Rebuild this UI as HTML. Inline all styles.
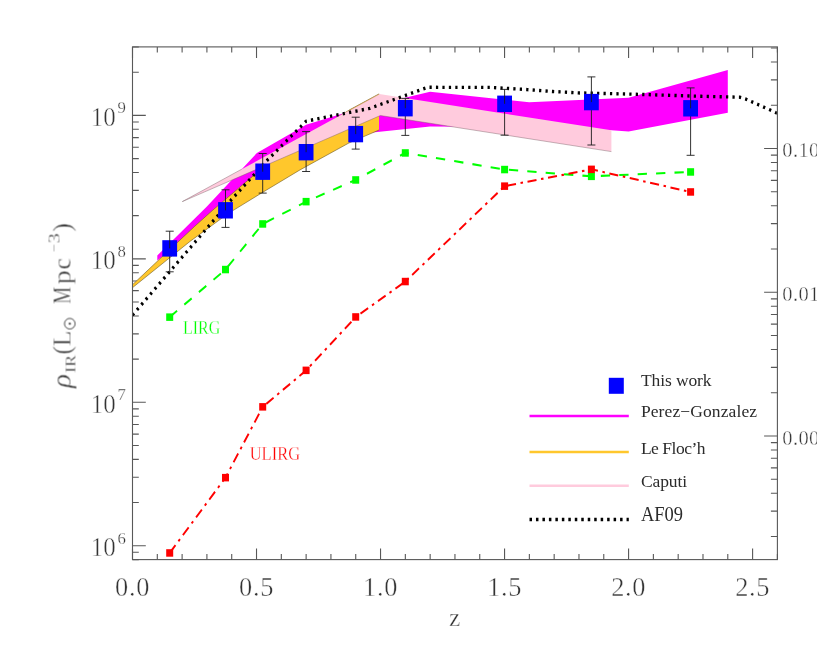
<!DOCTYPE html>
<html><head><meta charset="utf-8"><title>rho_IR vs z</title>
<style>
html,body{margin:0;padding:0;background:#fff;}
body{width:817px;height:654px;overflow:hidden;font-family:"Liberation Serif",serif;}
svg{display:block;}
text{font-family:"Liberation Serif",serif;stroke:#fff;stroke-width:0.42px;}
text.n{stroke:none;}
</style></head><body>
<svg width="817" height="654" viewBox="0 0 817 654">
<rect x="0" y="0" width="817" height="654" fill="#ffffff"/>

<defs><clipPath id="pc"><rect x="133.05" y="47.449999999999996" width="643.8" height="511.6"/></clipPath></defs>
<rect x="132.5" y="46.9" width="644.9" height="512.7" fill="none" stroke="#585858" stroke-width="1.1"/>
<path d="M132.50 559.6v-11M132.50 46.9v11M157.30 559.6v-5.5M157.30 46.9v5.5M182.11 559.6v-5.5M182.11 46.9v5.5M206.91 559.6v-5.5M206.91 46.9v5.5M231.72 559.6v-5.5M231.72 46.9v5.5M256.52 559.6v-11M256.52 46.9v11M281.32 559.6v-5.5M281.32 46.9v5.5M306.13 559.6v-5.5M306.13 46.9v5.5M330.93 559.6v-5.5M330.93 46.9v5.5M355.73 559.6v-5.5M355.73 46.9v5.5M380.54 559.6v-11M380.54 46.9v11M405.34 559.6v-5.5M405.34 46.9v5.5M430.15 559.6v-5.5M430.15 46.9v5.5M454.95 559.6v-5.5M454.95 46.9v5.5M479.75 559.6v-5.5M479.75 46.9v5.5M504.56 559.6v-11M504.56 46.9v11M529.36 559.6v-5.5M529.36 46.9v5.5M554.17 559.6v-5.5M554.17 46.9v5.5M578.97 559.6v-5.5M578.97 46.9v5.5M603.77 559.6v-5.5M603.77 46.9v5.5M628.58 559.6v-11M628.58 46.9v11M653.38 559.6v-5.5M653.38 46.9v5.5M678.18 559.6v-5.5M678.18 46.9v5.5M702.99 559.6v-5.5M702.99 46.9v5.5M727.79 559.6v-5.5M727.79 46.9v5.5M752.60 559.6v-11M752.60 46.9v11M777.40 559.6v-5.5M777.40 46.9v5.5M132.5 559.65h6.3M132.5 552.31h6.3M132.5 545.75h13.3M132.5 502.57h6.3M132.5 477.31h6.3M132.5 459.38h6.3M132.5 445.48h6.3M132.5 434.12h6.3M132.5 424.52h6.3M132.5 416.20h6.3M132.5 408.86h6.3M132.5 402.30h13.3M132.5 359.12h6.3M132.5 333.86h6.3M132.5 315.93h6.3M132.5 302.03h6.3M132.5 290.67h6.3M132.5 281.07h6.3M132.5 272.75h6.3M132.5 265.41h6.3M132.5 258.85h13.3M132.5 215.67h6.3M132.5 190.41h6.3M132.5 172.48h6.3M132.5 158.58h6.3M132.5 147.22h6.3M132.5 137.62h6.3M132.5 129.30h6.3M132.5 121.96h6.3M132.5 115.40h13.3M132.5 72.22h6.3M132.5 46.96h6.3M777.4 148.50h-13.3M777.4 105.23h-6.5M777.4 79.91h-6.5M777.4 61.95h-6.5M777.4 48.02h-6.5M777.4 292.25h-13.3M777.4 248.98h-6.5M777.4 223.66h-6.5M777.4 205.70h-6.5M777.4 191.77h-6.5M777.4 180.39h-6.5M777.4 170.77h-6.5M777.4 162.43h-6.5M777.4 155.08h-6.5M777.4 436.00h-13.3M777.4 392.73h-6.5M777.4 367.41h-6.5M777.4 349.45h-6.5M777.4 335.52h-6.5M777.4 324.14h-6.5M777.4 314.52h-6.5M777.4 306.18h-6.5M777.4 298.83h-6.5M777.4 536.48h-6.5M777.4 511.16h-6.5M777.4 493.20h-6.5M777.4 479.27h-6.5M777.4 467.89h-6.5M777.4 458.27h-6.5M777.4 449.93h-6.5M777.4 442.58h-6.5" stroke="#585858" stroke-width="1.1" fill="none"/>
<g clip-path="url(#pc)">
<polygon points="157.3,255.4 206.9,206.5 256.9,153.0 306.1,124.8 355.7,109.6 430.1,91.8 529.2,102.2 628.6,97.7 727.8,70.0 727.8,112.8 628.6,131.5 611.4,130.3 529.4,127.0 430.1,126.5 355.7,134.3 306.1,162.0 256.5,185.0 206.9,222.0 157.3,260.6" fill="#ff00ff" />
<polygon points="132.5,284.7 157.5,261.1 194.8,226.2 212.9,210.0 233.4,192.6 255.5,173.9 300.0,140.5 350.0,109.6 379.0,93.9 379.0,130.0 348.9,143.0 300.0,169.9 262.9,192.2 232.9,210.6 221.4,218.5 190.0,241.4 132.5,287.7" fill="#ffc72c" />
<polyline points="132.5,284.7 157.5,261.1 194.8,226.2 212.9,210.0 233.4,192.6 255.5,173.9 300.0,140.5 350.0,109.6 379.0,93.9" fill="none" stroke="#6b5a2a" stroke-width="0.6" />
<polyline points="132.5,287.7 190.0,241.4 221.4,218.5 232.9,210.6 262.9,192.2 300.0,169.9 348.9,143.0 379.0,130.0" fill="none" stroke="#6b5a2a" stroke-width="0.6" />
<polygon points="182.3,201.6 379.3,94.1 611.4,130.3 611.4,151.6 380.4,115.5 182.3,201.6" fill="#ffcbdd" />
<polyline points="182.3,201.6 241.7,169.2" fill="none" stroke="#7a6068" stroke-width="0.45" />
<polyline points="349.0,110.6 379.3,94.1" fill="none" stroke="#b08a30" stroke-width="0.5" />
<polyline points="182.3,201.6 380.4,115.5 611.4,151.6" fill="none" stroke="#7a6068" stroke-width="0.45" />
<g transform="scale(1,1.108)"><polyline points="132.50,284.39 231.70,179.87 267.70,144.22 306.10,109.39 370.00,97.74 427.50,78.79 490.00,78.88 527.20,80.87 552.70,82.58 578.10,83.84 604.60,84.39 630.00,84.93 701.00,86.91 739.80,87.73 745.90,89.44 757.50,94.13 769.80,99.10 777.40,102.35" fill="none" stroke="#000" stroke-width="3.05" stroke-dasharray="2.25 4.2"/></g>
</g>
<g transform="scale(1,1.108)"><polyline points="169.71,286.19 225.51,243.23 262.72,202.08 306.13,182.04 355.73,162.36 405.34,138.00 504.56,152.98 591.37,159.12 690.59,155.14" fill="none" stroke="#00ff00" stroke-width="1.85" stroke-dasharray="9.3 9.13"/></g>
<rect x="166.2" y="313.4" width="7" height="7.5" fill="#00ff00"/>
<rect x="222.0" y="265.8" width="7" height="7.5" fill="#00ff00"/>
<rect x="259.2" y="220.2" width="7" height="7.5" fill="#00ff00"/>
<rect x="302.6" y="197.9" width="7" height="7.5" fill="#00ff00"/>
<rect x="352.2" y="176.2" width="7" height="7.5" fill="#00ff00"/>
<rect x="401.8" y="149.2" width="7" height="7.5" fill="#00ff00"/>
<rect x="501.1" y="165.8" width="7" height="7.5" fill="#00ff00"/>
<rect x="587.9" y="172.6" width="7" height="7.5" fill="#00ff00"/>
<rect x="687.1" y="168.2" width="7" height="7.5" fill="#00ff00"/>
<g transform="scale(1,1.108)"><polyline points="169.71,499.10 225.51,431.05 262.72,367.24 306.13,334.30 355.73,286.10 405.34,254.06 504.56,168.05 591.37,152.80 690.59,173.29" fill="none" stroke="#ff0000" stroke-width="1.85" stroke-dasharray="9.1 4.6 2.5 4.6"/></g>
<rect x="166.2" y="549.2" width="7" height="7.5" fill="#ff0000"/>
<rect x="222.0" y="473.9" width="7" height="7.5" fill="#ff0000"/>
<rect x="259.2" y="403.1" width="7" height="7.5" fill="#ff0000"/>
<rect x="302.6" y="366.6" width="7" height="7.5" fill="#ff0000"/>
<rect x="352.2" y="313.2" width="7" height="7.5" fill="#ff0000"/>
<rect x="401.8" y="277.8" width="7" height="7.5" fill="#ff0000"/>
<rect x="501.1" y="182.4" width="7" height="7.5" fill="#ff0000"/>
<rect x="587.9" y="165.6" width="7" height="7.5" fill="#ff0000"/>
<rect x="687.1" y="188.2" width="7" height="7.5" fill="#ff0000"/>
<path d="M169.7 248.4V271.8M165.7 271.8H173.7" stroke="#1c1c1c" stroke-width="0.9" fill="none"/>
<rect x="162.3" y="240.2" width="14.8" height="16.4" fill="#0000ff"/>
<path d="M169.7 248.4V231.2M165.7 231.2H173.7" stroke="#1c1c1c" stroke-width="0.9" fill="none"/>
<path d="M225.5 210.3V227.4M221.5 227.4H229.5" stroke="#1c1c1c" stroke-width="0.9" fill="none"/>
<rect x="218.1" y="202.1" width="14.8" height="16.4" fill="#0000ff"/>
<path d="M225.5 210.3V189.8M221.5 189.8H229.5" stroke="#1c1c1c" stroke-width="0.9" fill="none"/>
<path d="M262.7 171.7V193.1M258.7 193.1H266.7" stroke="#1c1c1c" stroke-width="0.9" fill="none"/>
<rect x="255.3" y="163.5" width="14.8" height="16.4" fill="#0000ff"/>
<path d="M262.7 171.7V153.5M258.7 153.5H266.7" stroke="#1c1c1c" stroke-width="0.9" fill="none"/>
<path d="M306.1 152.2V171.5M302.1 171.5H310.1" stroke="#1c1c1c" stroke-width="0.9" fill="none"/>
<rect x="298.7" y="144.0" width="14.8" height="16.4" fill="#0000ff"/>
<path d="M306.1 152.2V131.6M302.1 131.6H310.1" stroke="#1c1c1c" stroke-width="0.9" fill="none"/>
<path d="M355.7 134.1V149.1M351.7 149.1H359.7" stroke="#1c1c1c" stroke-width="0.9" fill="none"/>
<rect x="348.3" y="125.9" width="14.8" height="16.4" fill="#0000ff"/>
<path d="M355.7 134.1V117.2M351.7 117.2H359.7" stroke="#1c1c1c" stroke-width="0.9" fill="none"/>
<path d="M405.3 108.2V135.4M401.3 135.4H409.3" stroke="#1c1c1c" stroke-width="0.9" fill="none"/>
<rect x="397.9" y="100.0" width="14.8" height="16.4" fill="#0000ff"/>
<path d="M405.3 108.2V98.4M401.3 98.4H409.3" stroke="#1c1c1c" stroke-width="0.9" fill="none"/>
<path d="M504.6 103.8V135.2M500.6 135.2H508.6" stroke="#1c1c1c" stroke-width="0.9" fill="none"/>
<rect x="497.2" y="95.6" width="14.8" height="16.4" fill="#0000ff"/>
<path d="M504.6 103.8V89.4M500.6 89.4H508.6" stroke="#1c1c1c" stroke-width="0.9" fill="none"/>
<path d="M591.4 102.1V145.0M587.4 145.0H595.4" stroke="#1c1c1c" stroke-width="0.9" fill="none"/>
<rect x="584.0" y="93.9" width="14.8" height="16.4" fill="#0000ff"/>
<path d="M591.4 102.1V76.9M587.4 76.9H595.4" stroke="#1c1c1c" stroke-width="0.9" fill="none"/>
<path d="M690.6 108.3V155.3M686.6 155.3H694.6" stroke="#1c1c1c" stroke-width="0.9" fill="none"/>
<rect x="683.2" y="100.1" width="14.8" height="16.4" fill="#0000ff"/>
<path d="M690.6 108.3V87.9M686.6 87.9H694.6" stroke="#1c1c1c" stroke-width="0.9" fill="none"/>
<g style="opacity:0.999">
<text x="132.6" y="596" font-size="26.4" text-anchor="middle" letter-spacing="0.7" fill="#333">0.0</text>
<text x="256.6" y="596" font-size="26.4" text-anchor="middle" letter-spacing="0.7" fill="#333">0.5</text>
<text x="380.6" y="596" font-size="26.4" text-anchor="middle" letter-spacing="0.7" fill="#333">1.0</text>
<text x="504.7" y="596" font-size="26.4" text-anchor="middle" letter-spacing="0.7" fill="#333">1.5</text>
<text x="628.7" y="596" font-size="26.4" text-anchor="middle" letter-spacing="0.7" fill="#333">2.0</text>
<text x="752.7" y="596" font-size="26.4" text-anchor="middle" letter-spacing="0.7" fill="#333">2.5</text>
<text x="90.8" y="556.0" font-size="26.4" fill="#333" textLength="25" lengthAdjust="spacingAndGlyphs">10</text>
<text x="117.6" y="543.5" font-size="16.8" style="stroke-width:0.3px" fill="#333">6</text>
<text x="90.8" y="412.6" font-size="26.4" fill="#333" textLength="25" lengthAdjust="spacingAndGlyphs">10</text>
<text x="117.6" y="400.1" font-size="16.8" style="stroke-width:0.3px" fill="#333">7</text>
<text x="90.8" y="269.2" font-size="26.4" fill="#333" textLength="25" lengthAdjust="spacingAndGlyphs">10</text>
<text x="117.6" y="256.7" font-size="16.8" style="stroke-width:0.3px" fill="#333">8</text>
<text x="90.8" y="125.7" font-size="26.4" fill="#333" textLength="25" lengthAdjust="spacingAndGlyphs">10</text>
<text x="117.6" y="113.2" font-size="16.8" style="stroke-width:0.3px" fill="#333">9</text>
<text x="782.3" y="157.0" font-size="20.5" style="stroke-width:0.4px" fill="#333" letter-spacing="0.4">0.10</text>
<text x="782.3" y="300.8" font-size="20.5" style="stroke-width:0.4px" fill="#333" letter-spacing="0.4">0.01</text>
<text x="782.3" y="444.5" font-size="20.5" style="stroke-width:0.4px" fill="#333" letter-spacing="0.4">0.00</text>
<text x="454.7" y="626.3" font-size="25.5" text-anchor="middle" fill="#333">z</text>
<g transform="translate(70.5,387.5) rotate(-90)" fill="#333">
<text x="-0.5" y="0" font-size="26.5" font-style="italic" textLength="14" lengthAdjust="spacingAndGlyphs">ρ</text>
<text x="14.8" y="5.4" font-size="15.5" style="stroke-width:0.3px" textLength="17.6" lengthAdjust="spacingAndGlyphs">IR</text>
<text x="33" y="0" font-size="25">(</text>
<text x="41.3" y="0" font-size="25.5">L</text>
<circle cx="63.8" cy="-0.7" r="5.3" fill="none" stroke="#333" stroke-width="0.9"/><circle cx="63.8" cy="-0.7" r="1.1" fill="#333"/>
<text x="83.6" y="0" font-size="25.5" textLength="17.2" lengthAdjust="spacingAndGlyphs">M</text>
<text x="103.2" y="0" font-size="25.5" textLength="14" lengthAdjust="spacingAndGlyphs">p</text>
<text x="118.0" y="0" font-size="25.5">c</text>
<text x="135.2" y="-10.8" font-size="16" style="stroke-width:0.3px" textLength="8.4" lengthAdjust="spacingAndGlyphs">−</text>
<text x="144.2" y="-10.8" font-size="16.5" style="stroke-width:0.3px" textLength="10" lengthAdjust="spacingAndGlyphs">3</text>
<text x="156" y="0" font-size="25">)</text>
</g>
<text x="183" y="334.4" font-size="19.7" fill="#00ff00" style="stroke-width:0.3px" textLength="37.2" lengthAdjust="spacingAndGlyphs">LIRG</text>
<text x="249.7" y="459.7" font-size="19.7" fill="#ff0000" style="stroke-width:0.3px" textLength="50.4" lengthAdjust="spacingAndGlyphs">ULIRG</text>
<rect x="608.8" y="377.8" width="15" height="16" fill="#0000ff"/>
<line x1="529.5" x2="628.8" y1="416" y2="416" stroke="#ff00ff" stroke-width="2.6"/>
<line x1="529.5" x2="628.8" y1="452" y2="452" stroke="#ffc72c" stroke-width="2.6"/>
<line x1="529.5" x2="628.8" y1="485.8" y2="485.8" stroke="#ffcbdd" stroke-width="2.6"/>
<line x1="529.5" x2="628.8" y1="519.5" y2="519.5" stroke="#000" stroke-width="3.3" stroke-dasharray="2.5 3.97"/>
<text x="640.9" y="386.4" font-size="17.5" fill="#2b2b2b" class="n" textLength="70.7" lengthAdjust="spacing" xml:space="preserve">This work</text>
<text x="640.9" y="417.3" font-size="17.5" fill="#2b2b2b" class="n" textLength="116.2" lengthAdjust="spacing" xml:space="preserve">Perez−Gonzalez</text>
<text x="640.9" y="454.1" font-size="17.5" fill="#2b2b2b" class="n" textLength="64.6" lengthAdjust="spacing" xml:space="preserve">Le Floc’h</text>
<text x="640.9" y="487.1" font-size="17.5" fill="#2b2b2b" class="n" textLength="46.2" lengthAdjust="spacing" xml:space="preserve">Caputi</text>
<text x="640.9" y="520.5" font-size="20.8" fill="#2b2b2b" class="n" textLength="42.1" lengthAdjust="spacingAndGlyphs" xml:space="preserve">AF09</text>
</g>
</svg></body></html>
